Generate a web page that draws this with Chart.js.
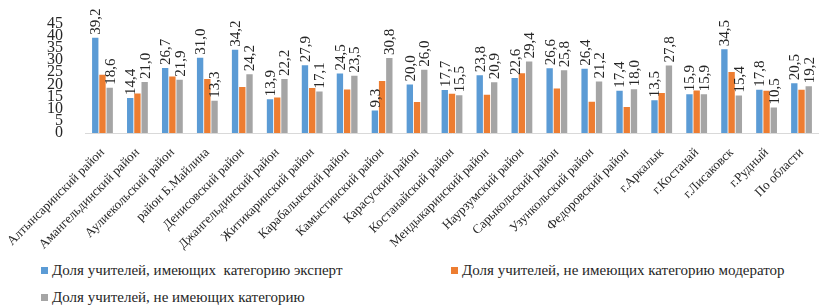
<!DOCTYPE html>
<html>
<head>
<meta charset="utf-8">
<script src="https://cdn.jsdelivr.net/npm/chart.js@4"></script>
<style>
    body { margin: 0; background: #fff; }
    #wrap { position: relative; width: 819px; height: 306px; }
    #box { position: absolute; left: 0; top: 0; width: 819px; height: 252px; }
    .leg { position: absolute; font: 15px "Liberation Serif", serif; color: #262626; white-space: pre; line-height: 16px; }
    .leg i { display: inline-block; width: 7px; height: 7px; margin-right: 4px; vertical-align: 1px; }
</style>
</head>
<body>
<div id="wrap">
    <div id="box"><canvas id="chart"></canvas></div>
    <div id="legend"></div>
</div>
<script>
const categories = ['Алтынсаринский район', 'Амангельдинский район', 'Аулиекольский район', 'район Б.Майлина',
    'Денисовский район', 'Джангельдинский район', 'Житикаринский район', 'Карабалыкский район',
    'Камыстинский район', 'Карасуский район', 'Костанайский район', 'Мендыкаринский район',
    'Наурзумский район', 'Сарыкольский район', 'Узункольский район', 'Федоровский район',
    'г.Аркалык', 'г.Костанай', 'г.Лисаковск', 'г.Рудный', 'По области']
const seriesNames = ['Доля учителей, имеющих  категорию эксперт',
    'Доля учителей, не имеющих категорию модератор',
    'Доля учителей, не имеющих категорию']
const expert = [39.2, 14.4, 26.7, 31.0, 34.2, 13.9, 27.9, 24.5, 9.3, 20.0, 17.7, 23.8, 22.6, 26.6, 26.4, 17.4, 13.5, 15.9, 34.5, 17.8, 20.5]
const moderator = [24.0, 16.2, 23.2, 22.2, 18.9, 14.6, 18.5, 17.9, 21.4, 12.8, 16.1, 15.7, 24.6, 18.3, 12.9, 10.7, 16.5, 17.5, 25.1, 17.4, 17.8]
const noCategory = [18.6, 21.0, 21.9, 13.3, 24.2, 22.2, 17.1, 23.5, 30.8, 26.0, 15.5, 20.9, 29.4, 25.8, 21.2, 18.0, 27.8, 15.9, 15.4, 10.5, 19.2]
const colors = ['#5B9BD5', '#ED7D31', '#A5A5A5']
const labelled = [0, 2]

const serif = '"Liberation Serif", serif'

// value labels above bars, rotated, Excel-like "39,2"
const barLabels = {
    id: 'barLabels',
    afterDatasetsDraw(chart) {
        const ctx = chart.ctx
        ctx.save()
        ctx.font = '15px ' + serif
        ctx.fillStyle = '#262626'
        ctx.textAlign = 'left'
        ctx.textBaseline = 'middle'
        labelled.forEach(di => {
            const meta = chart.getDatasetMeta(di)
            meta.data.forEach((bar, i) => {
                const v = chart.data.datasets[di].data[i]
                ctx.save()
                ctx.translate(bar.x + 1, bar.y - 3)
                ctx.rotate(-Math.PI / 2)
                ctx.fillText(v.toFixed(1).replace('.', ','), 0, 0)
                ctx.restore()
            })
        })
        ctx.restore()
    }
}

const datasets = [expert, moderator, noCategory].map((d, i) => ({
    label: seriesNames[i],
    data: d,
    backgroundColor: colors[i],
    borderWidth: 0,
    categoryPercentage: 0.62,
    barPercentage: 0.88
}))

new Chart(document.getElementById('chart'), {
    type: 'bar',
    data: { labels: categories, datasets: datasets },
    options: {
        responsive: true,
        maintainAspectRatio: false,
        animation: false,
        layout: { padding: { top: 17, right: 0, left: 0, bottom: 0 } },
        plugins: { legend: { display: false }, tooltip: { enabled: false } },
        scales: {
            x: {
                grid: { display: false },
                border: { color: '#d9d9d9', width: 1 },
                afterFit(scale) { scale.height = 119 },
                ticks: {
                    color: '#262626',
                    font: { family: serif, size: 13 },
                    maxRotation: 45,
                    minRotation: 45,
                    autoSkip: false,
                    padding: 4
                }
            },
            y: {
                min: 0,
                max: 45,
                grid: { display: false },
                border: { display: false },
                afterFit(scale) { scale.width = 85 },
                ticks: {
                    stepSize: 5,
                    autoSkip: false,
                    color: '#262626',
                    font: { family: serif, size: 16 },
                    padding: 14
                }
            }
        }
    },
    plugins: [barLabels]
})

// legend laid out like the source: two columns, wrapped
const legendPos = [[41, 262], [451, 262], [41, 289]]
const legend = document.getElementById('legend')
seriesNames.forEach((name, i) => {
    const el = document.createElement('div')
    el.className = 'leg'
    el.style.left = legendPos[i][0] + 'px'
    el.style.top = legendPos[i][1] + 'px'
    el.innerHTML = '<i style="background:' + colors[i] + '"></i>'
    el.appendChild(document.createTextNode(name))
    legend.appendChild(el)
})
</script>
</body>
</html>
